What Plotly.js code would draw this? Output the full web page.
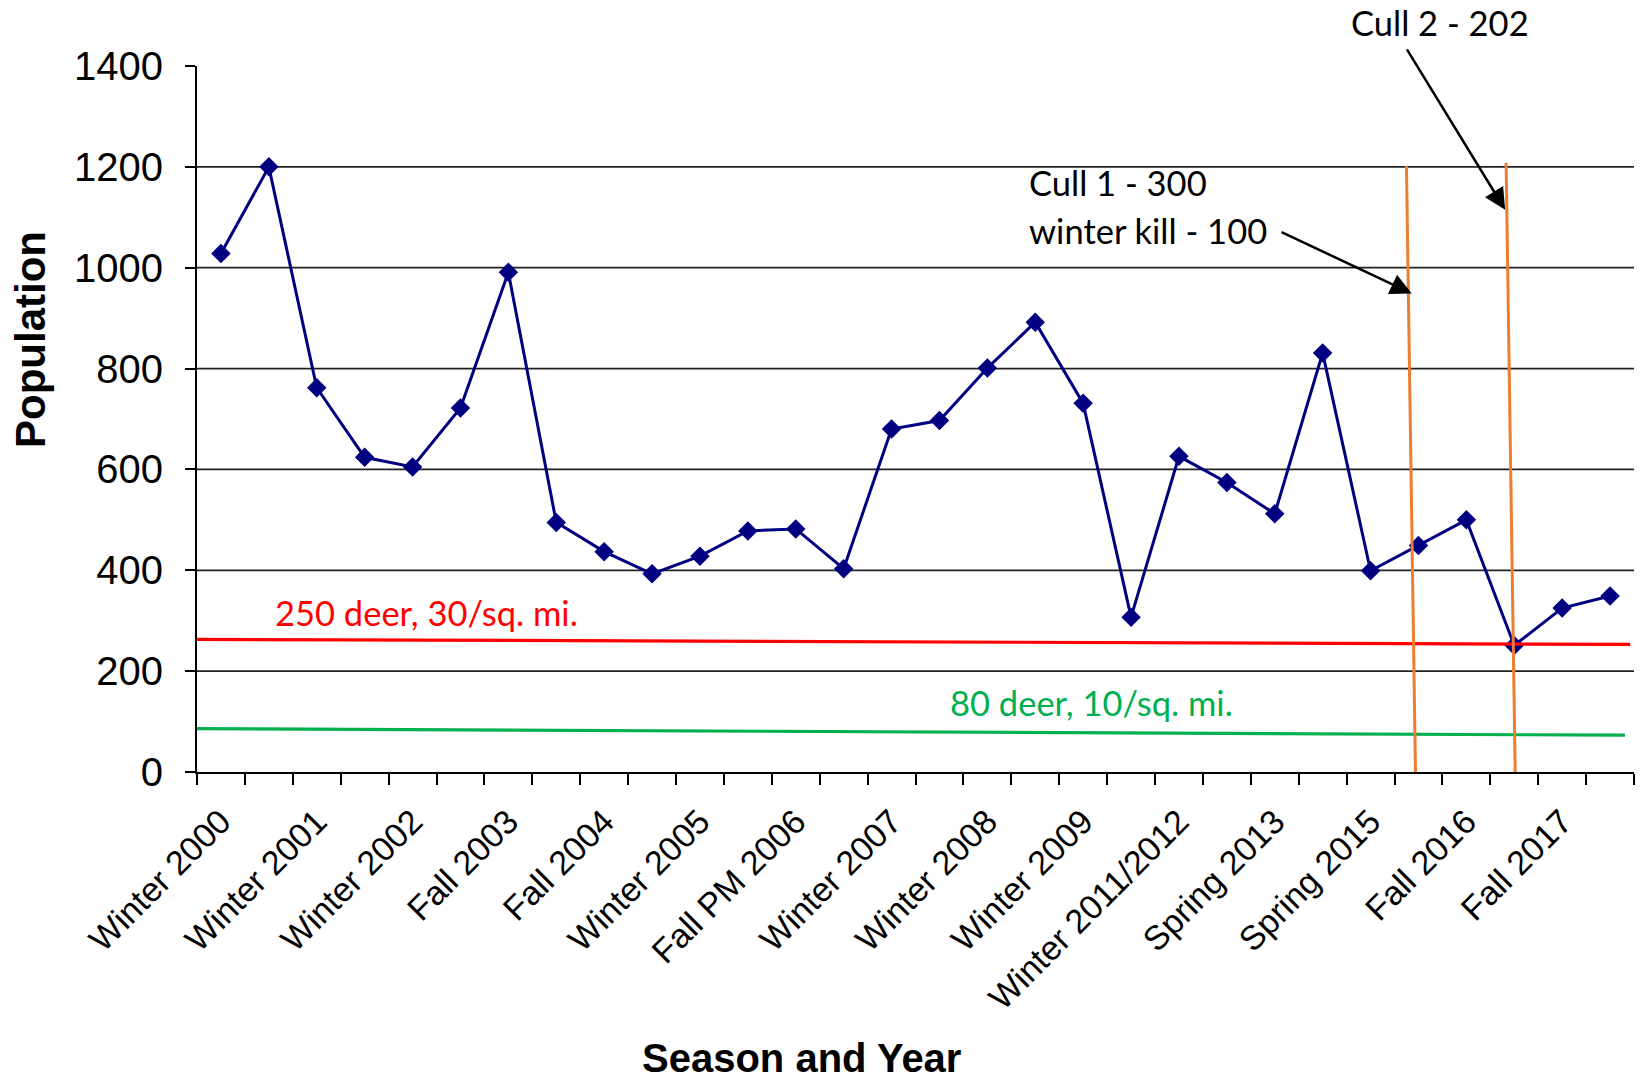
<!DOCTYPE html>
<html>
<head>
<meta charset="utf-8">
<script src="https://cdn.plot.ly/plotly-3.0.1.min.js"></script>
<style>
  html, body { margin: 0; padding: 0; background: #fff; }
  #chart { width: 1642px; height: 1081px; }
</style>
</head>
<body>
<div id="chart"></div>
<script>
// ---- Data ----
// Population estimate for each of 30 survey seasons (in order)
const population = [1028, 1200, 762, 624, 605, 722, 991, 495, 437, 393,
                    428, 478, 482, 403, 680, 697, 801, 892, 731, 307,
                    626, 574, 512, 831, 399, 449, 500, 251, 325, 349];
// Tick labels shown on every other season
const tickLabels = ["Winter 2000", "Winter 2001", "Winter 2002", "Fall 2003", "Fall 2004",
                    "Winter 2005", "Fall PM 2006", "Winter 2007", "Winter 2008", "Winter 2009",
                    "Winter 2011/2012", "Spring 2013", "Spring 2015", "Fall 2016", "Fall 2017"];
const tickEvery = 2;
const yTicks = [0, 200, 400, 600, 800, 1000, 1200, 1400];
const gridValues = [200, 400, 600, 800, 1000, 1200];
// Hand-drawn target lines (start value, end value)
const target250 = [263, 253];
const target80 = [86, 73];
// Cull marker lines: [x top, y top, x bottom, y bottom] in season index / population units
const cull1Line = [24.75, 1202, 24.94, -14];
const cull2Line = [26.83, 1208, 27.02, -2];

// ---- Build ----
const n = population.length;
const xIdx = population.map((_, i) => i);
const tickVals = tickLabels.map((_, i) => i * tickEvery);
const boundaries = [];
for (let i = 0; i <= n; i++) boundaries.push(i - 0.5);

const calib = "Lato, 'Noto Sans', sans-serif";
const arial = "'Liberation Sans', Arial, sans-serif";

const trace = {
  x: xIdx, y: population, type: 'scatter', mode: 'lines+markers',
  line: { color: '#000080', width: 3 },
  marker: { symbol: 'diamond', size: 15, color: '#000080' },
  cliponaxis: false, hoverinfo: 'x+y'
};

const shapes = [];
gridValues.forEach(v => shapes.push({
  type: 'line', xref: 'x', yref: 'y', x0: -0.5, x1: n - 0.5, y0: v, y1: v,
  line: { color: '#222', width: 1.8 }, layer: 'below'
}));
shapes.push({ type: 'line', xref: 'x', yref: 'y', x0: -0.5, x1: n - 0.58, y0: target250[0], y1: target250[1],
  line: { color: '#FF0000', width: 3.2 } });
shapes.push({ type: 'line', xref: 'x', yref: 'y', x0: -0.62, x1: n - 0.69, y0: target80[0], y1: target80[1],
  line: { color: '#00B050', width: 3.2 } });
[cull1Line, cull2Line].forEach(c => shapes.push({
  type: 'line', xref: 'x', yref: 'y', x0: c[0], y0: c[1], x1: c[2], y1: c[3],
  line: { color: '#ED7D31', width: 3 }
}));

const annotations = [
  { text: 'Cull 2 - 202', x: 25.45, y: 1.061, xref: 'x', yref: 'paper', showarrow: false,
    font: { family: calib, size: 34.5, color: '#000' }, xanchor: 'center', yanchor: 'middle' },
  { text: 'Cull 1 - 300', x: 16.83, y: 1169, xref: 'x', yref: 'y', showarrow: false,
    font: { family: calib, size: 34.5, color: '#000' }, xanchor: 'left', yanchor: 'middle' },
  { text: 'winter kill - 100', x: 16.83, y: 1074, xref: 'x', yref: 'y', showarrow: false,
    font: { family: calib, size: 34.5, color: '#000' }, xanchor: 'left', yanchor: 'middle' },
  { text: '250 deer, 30/sq. mi.', x: 1.09, y: 317, xref: 'x', yref: 'y', showarrow: false,
    font: { family: calib, size: 34.5, color: '#FF0000' }, xanchor: 'left', yanchor: 'middle' },
  { text: '80 deer, 10/sq. mi.', x: 15.18, y: 137, xref: 'x', yref: 'y', showarrow: false,
    font: { family: calib, size: 34.5, color: '#00B050' }, xanchor: 'left', yanchor: 'middle' },
  { text: '', x: 24.86, y: 949, ax: 22.11, ay: 1072, xref: 'x', yref: 'y', axref: 'x', ayref: 'y',
    showarrow: true, arrowhead: 2, arrowsize: 1.7, arrowwidth: 2.5, arrowcolor: '#000' },
  { text: '', x: 26.81, y: 1115, ax: 24.74, ay: 1436, xref: 'x', yref: 'y', axref: 'x', ayref: 'y',
    showarrow: true, arrowhead: 2, arrowsize: 1.7, arrowwidth: 2.5, arrowcolor: '#000' },
  { text: '<b>Season and Year</b>', x: 0.421, y: -0.405, xref: 'paper', yref: 'paper', showarrow: false,
    font: { family: arial, size: 40, color: '#000' }, xanchor: 'center', yanchor: 'middle' },
  { text: '<b>Population</b>', x: -0.1155, y: 0.612, xref: 'paper', yref: 'paper', showarrow: false,
    textangle: -90, font: { family: arial, size: 42, color: '#000' }, xanchor: 'center', yanchor: 'middle' }
];

const layout = {
  width: 1642, height: 1081,
  margin: { l: 197, r: 8, t: 66, b: 309 },
  paper_bgcolor: '#fff', plot_bgcolor: '#fff',
  showlegend: false,
  font: { family: arial, color: '#000' },
  xaxis: {
    type: 'linear', range: [-0.5, n - 0.5], fixedrange: true,
    tickmode: 'array', tickvals: tickVals, ticktext: tickLabels,
    tickangle: -45, ticks: 'outside', ticklen: 0, tickcolor: 'rgba(0,0,0,0)',
    ticklabelstandoff: 14,
    tickfont: { family: arial, size: 34, color: '#000' },
    showgrid: false, zeroline: false,
    showline: true, linecolor: '#000', linewidth: 2,
    minor: { tickmode: 'array', tickvals: boundaries, ticks: 'outside', ticklen: 11, tickwidth: 2, tickcolor: '#000', showgrid: false }
  },
  yaxis: {
    range: [0, 1400], fixedrange: true,
    tickmode: 'array', tickvals: yTicks,
    ticks: 'outside', ticklen: 10, tickwidth: 2, tickcolor: '#000',
    ticklabelstandoff: 14,
    tickfont: { family: arial, size: 40, color: '#000' },
    showgrid: false, zeroline: false,
    showline: true, linecolor: '#000', linewidth: 2
  },
  shapes: shapes,
  annotations: annotations
};

Plotly.newPlot('chart', [trace], layout, { displayModeBar: false, staticPlot: true });
</script>
</body>
</html>
